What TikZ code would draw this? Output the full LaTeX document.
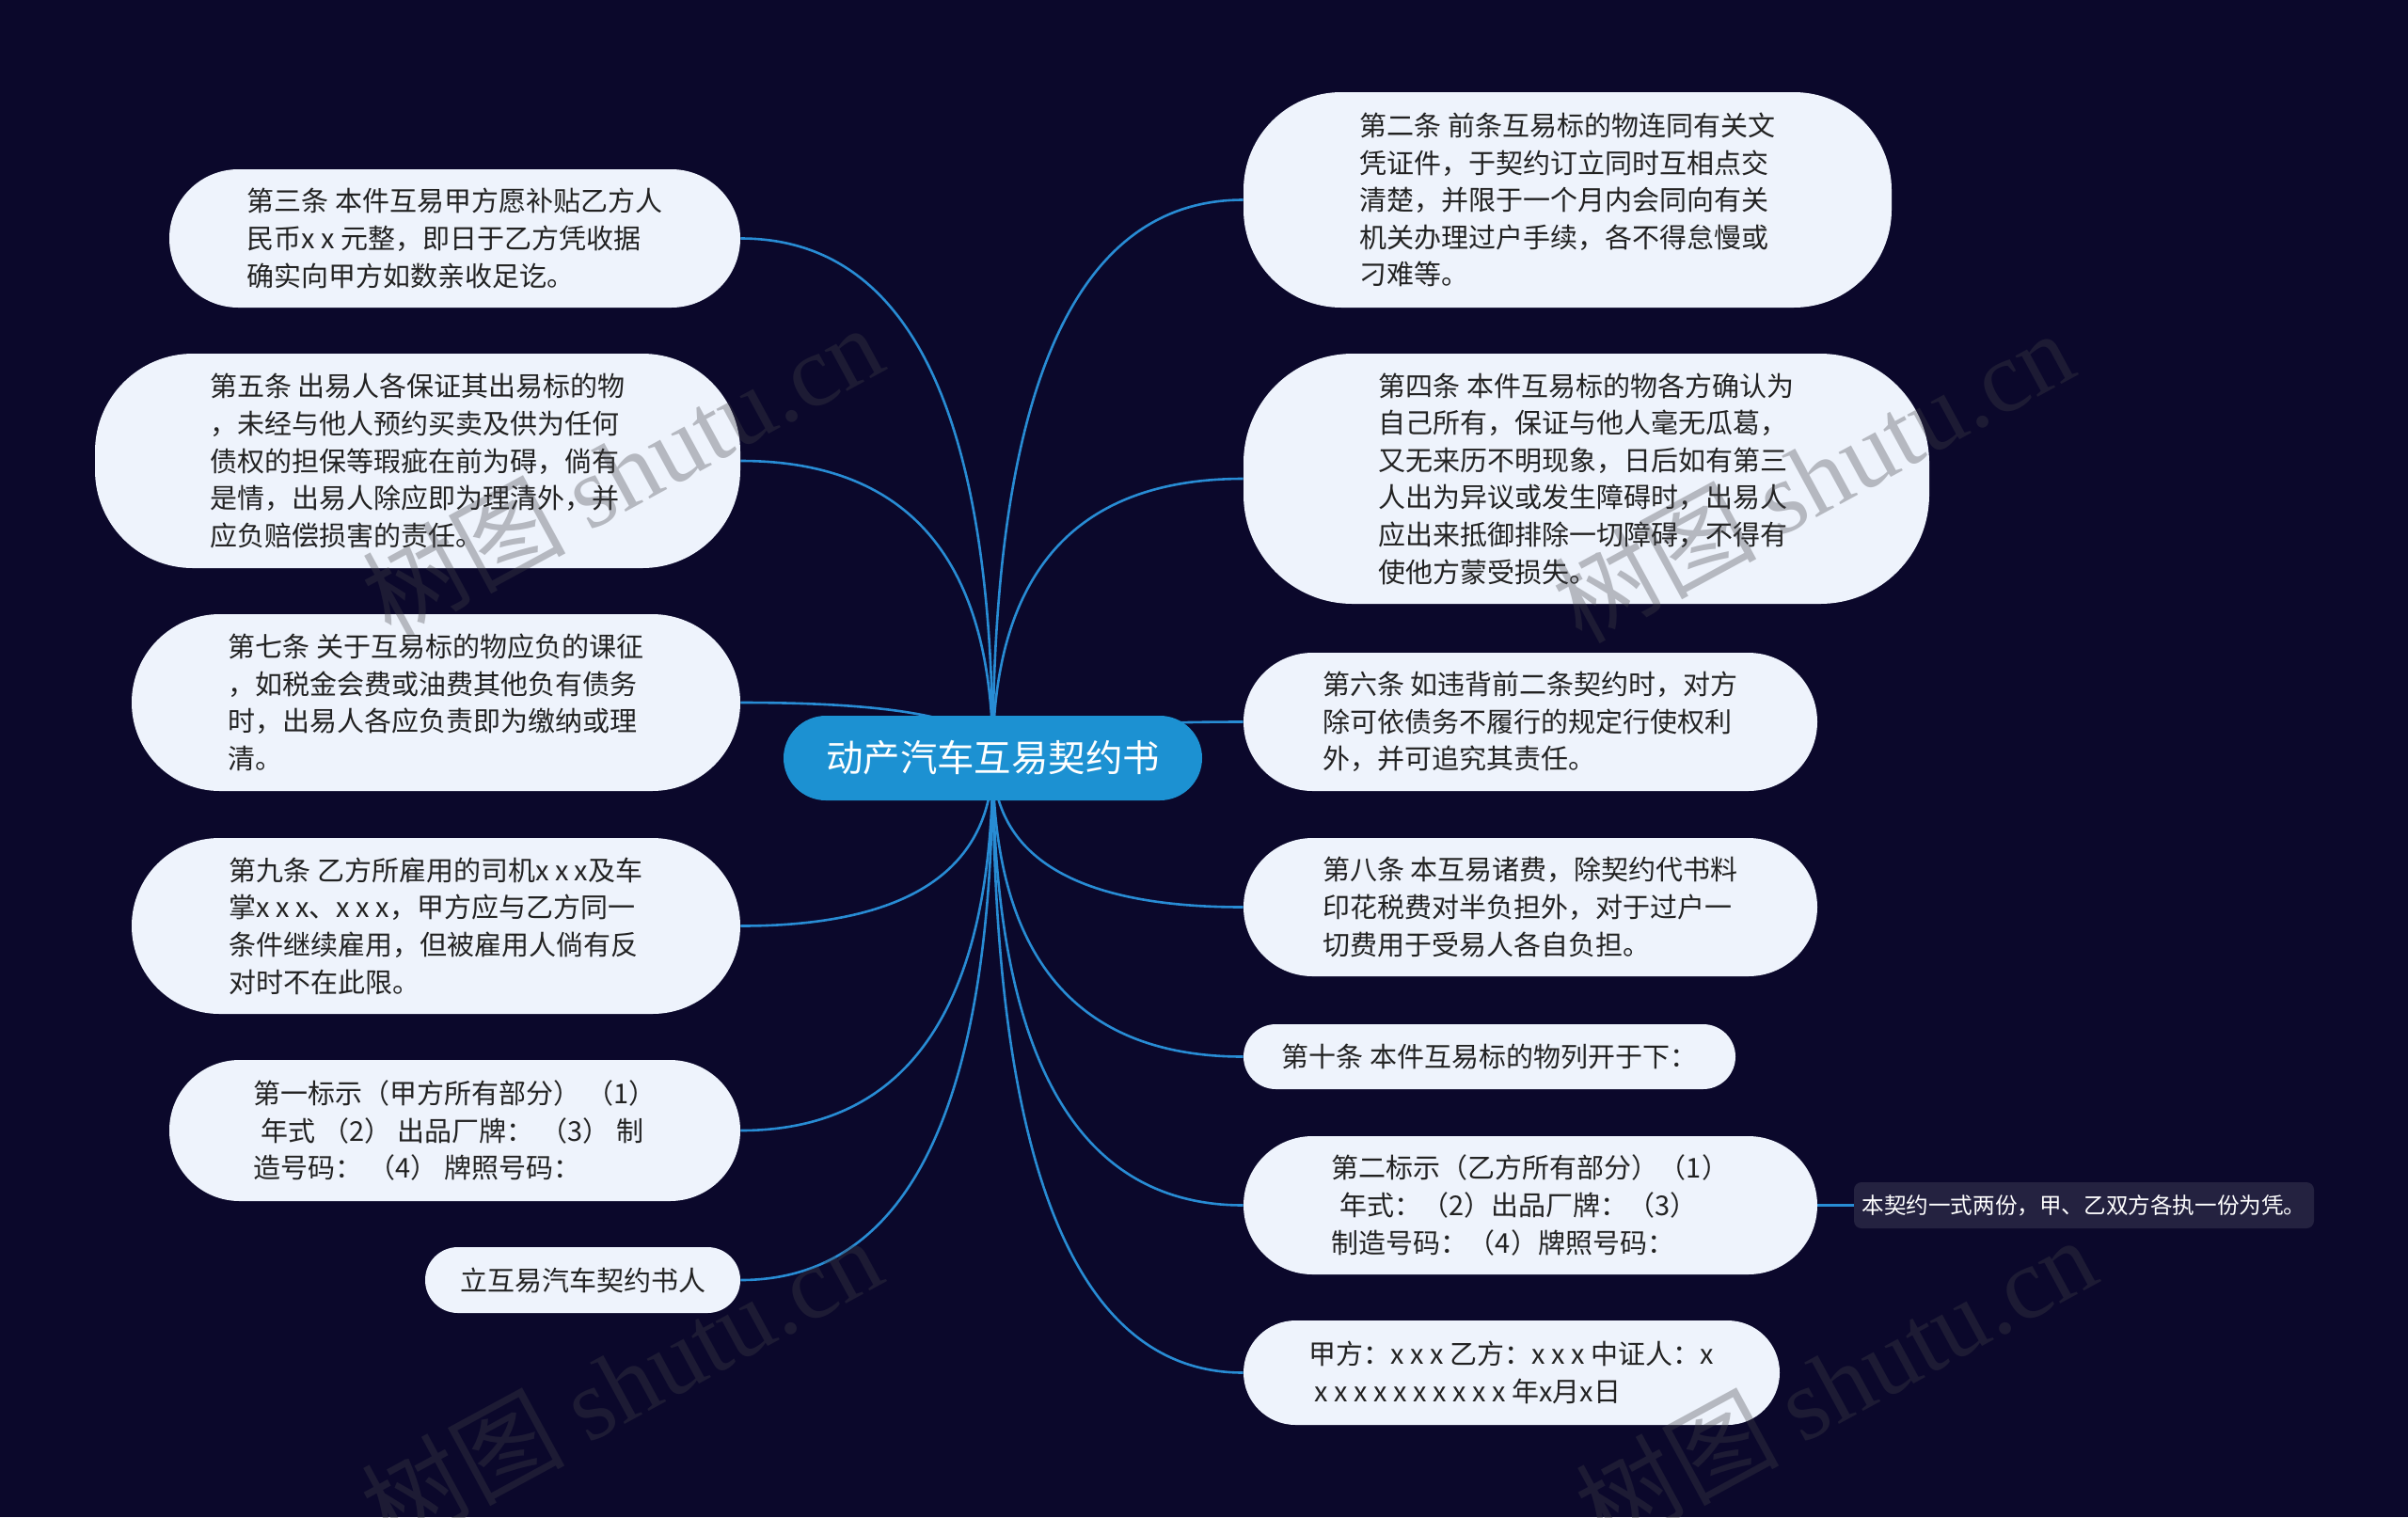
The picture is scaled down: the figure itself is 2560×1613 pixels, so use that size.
\documentclass[tikz,border=0pt]{standalone}
\usepackage{fontspec}
\setmainfont{Noto Sans CJK SC}
\newfontfamily\wmlatin{Liberation Serif}
\usetikzlibrary{calc}
\pgfdeclarelayer{backlayer}
\pgfdeclarelayer{edgelayer}
\pgfsetlayers{backlayer,edgelayer,main}
\definecolor{bgc}{RGB}{11,8,43}
\definecolor{boxc}{RGB}{238,243,252}
\definecolor{txtc}{RGB}{34,34,34}
\definecolor{edgec}{RGB}{40,140,212}
\definecolor{rootc}{RGB}{28,145,210}
\definecolor{subc}{RGB}{36,34,64}
\definecolor{wmc}{RGB}{66,66,72}
\tikzset{
  box/.style={fill=boxc, text=txtc, align=left, inner sep=0pt,
    font=\fontsize{14.5}{19.8}\selectfont},
  rootbox/.style={fill=rootc, text=white, inner sep=0pt,
    font=\fontsize{19.7}{24}\selectfont},
  subbox/.style={fill=subc, text=white, inner sep=0pt,
    font=\fontsize{11.8}{14}\selectfont},
  edge/.style={draw=edgec, line width=1.3pt},
  wm/.style={text=wmc, opacity=0.33, rotate=28.5, inner sep=0pt,
    font=\fontsize{54}{60}\selectfont}
}
\begin{document}
\begin{tikzpicture}[x=0.5pt,y=-0.5pt]
\begin{pgfonlayer}{backlayer}
\fill[bgc] (0,0) rectangle (2560,1613);
\end{pgfonlayer}
\useasboundingbox (0,0) rectangle (2560,1613);

% nodes
\node[rootbox, minimum width=222.5pt, minimum height=45pt, rounded corners=22.5pt] (root) at (1055.5,806) {动产汽车互易契约书};
\coordinate (o) at (1055.5,806);

\node[box, minimum width=303.5pt, minimum height=73.5pt, rounded corners=36.7pt] (L1) at (483.5,253.5)
  {第三条 本件互易甲方愿补贴乙方人\\民币x x 元整，即日于乙方凭收据\\确实向甲方如数亲收足讫。};
\node[box, minimum width=343pt, minimum height=114pt, rounded corners=52pt] (L2) at (444,490)
  {第五条 出易人各保证其出易标的物\\，未经与他人预约买卖及供为任何\\债权的担保等瑕疵在前为碍，倘有\\是情，出易人除应即为理清外，并\\应负赔偿损害的责任。};
\node[box, minimum width=323.5pt, minimum height=94pt, rounded corners=46.9pt] (L3) at (463.5,747)
  {第七条 关于互易标的物应负的课征\\，如税金会费或油费其他负有债务\\时，出易人各应负责即为缴纳或理\\清。};
\node[box, minimum width=323.5pt, minimum height=93.5pt, rounded corners=46.7pt] (L4) at (463.5,984.5)
  {第九条 乙方所雇用的司机x x x及车\\掌x x x、x x x，甲方应与乙方同一\\条件继续雇用，但被雇用人倘有反\\对时不在此限。};
\node[box, minimum width=303.5pt, minimum height=75pt, rounded corners=37.4pt] (L5) at (483.5,1202)
  {第一标示（甲方所有部分）\ （1）\\\hspace*{0.3em}年式 （2） 出品厂牌： （3） 制\\造号码： （4） 牌照号码：};
\node[box, minimum width=167.5pt, minimum height=35pt, rounded corners=17.4pt] (L6) at (619.5,1361)
  {立互易汽车契约书人};

\node[box, minimum width=344.5pt, minimum height=114.5pt, rounded corners=52pt] (R1) at (1666.5,212.5)
  {第二条 前条互易标的物连同有关文\\凭证件，于契约订立同时互相点交\\清楚，并限于一个月内会同向有关\\机关办理过户手续，各不得怠慢或\\刁难等。};
\node[box, minimum width=364.5pt, minimum height=133pt, rounded corners=58pt] (R2) at (1686.5,509)
  {第四条 本件互易标的物各方确认为\\自己所有，保证与他人毫无瓜葛，\\又无来历不明现象，日后如有第三\\人出为异议或发生障碍时，出易人\\应出来抵御排除一切障碍，不得有\\使他方蒙受损失。};
\node[box, minimum width=305pt, minimum height=73.5pt, rounded corners=36.7pt] (R3) at (1627,767.5)
  {第六条 如违背前二条契约时，对方\\除可依债务不履行的规定行使权利\\外，并可追究其责任。};
\node[box, minimum width=305pt, minimum height=73.5pt, rounded corners=36.7pt] (R4) at (1627,964.5)
  {第八条 本互易诸费，除契约代书料\\印花税费对半负担外，对于过户一\\切费用于受易人各自负担。};
\node[box, minimum width=261.5pt, minimum height=34.5pt, rounded corners=17.2pt] (R5) at (1583.5,1123.5)
  {第十条 本件互易标的物列开于下：};
\node[box, minimum width=305pt, minimum height=73.5pt, rounded corners=36.7pt] (R6) at (1627,1281.5)
  {第二标示（乙方所有部分）（1）\\\hspace*{0.3em}年式：（2）出品厂牌：（3）\\制造号码：（4）牌照号码：};
\node[box, minimum width=285pt, minimum height=55.5pt, rounded corners=27.7pt] (R7) at (1607,1459.5)
  {甲方：x x x 乙方：x x x 中证人：x\\\hspace*{0.2em}x x x x x x x x x x 年x月x日};
\node[subbox, minimum width=244.5pt, minimum height=24.5pt, rounded corners=4pt] (S) at (2215.5,1281.5)
  {本契约一式两份，甲、乙双方各执一份为凭。};

% connectors (quadratic curves from the root centre), behind nodes
\begin{pgfonlayer}{edgelayer}
\foreach \n in {L1,L2,L3,L4,L5,L6} {
  \draw[edge] (o) .. controls ($(o)!2/3!(o |- \n.east)$) and ($(\n.east)!2/3!(o |- \n.east)$) .. (\n.east);
}
\foreach \n in {R1,R2,R3,R4,R5,R6,R7} {
  \draw[edge] (o) .. controls ($(o)!2/3!(o |- \n.west)$) and ($(\n.west)!2/3!(o |- \n.west)$) .. (\n.west);
}
\draw[edge] (R6.east) -- (S.west);
\end{pgfonlayer}

% watermarks
\node[wm] (wm1) at (661,500) {树图 {\wmlatin shutu.cn}};
\node[wm] (wm2) at (1927,506) {树图 {\wmlatin shutu.cn}};
\node[wm] (wm3) at (660,1470) {树图 {\wmlatin shutu.cn}};
\node[wm] (wm4) at (1951,1470) {树图 {\wmlatin shutu.cn}};
\end{tikzpicture}
\end{document}
